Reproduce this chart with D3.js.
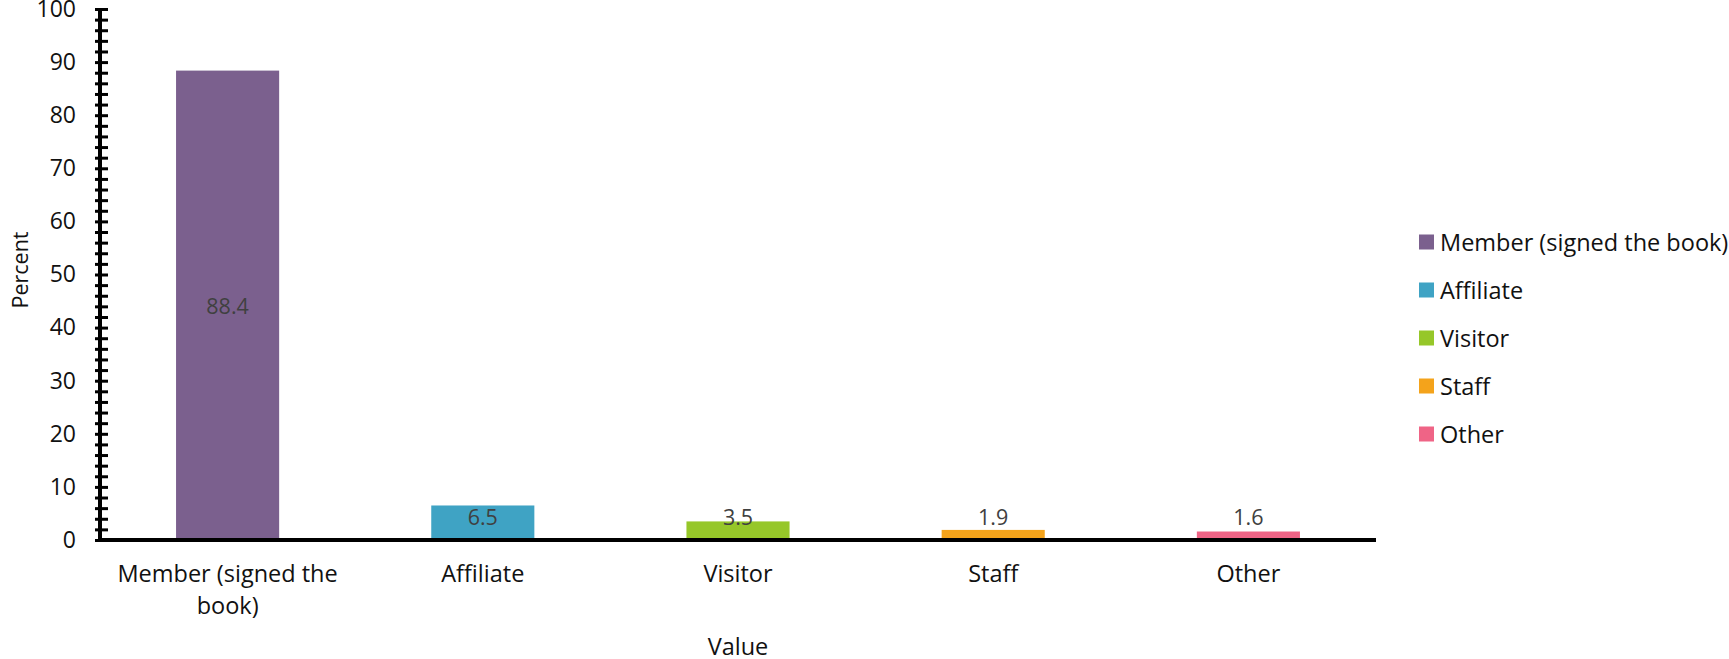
<!DOCTYPE html>
<html>
<head>
<meta charset="utf-8">
<script src="https://cdn.jsdelivr.net/npm/d3@7"></script>
<style>
  html, body { margin: 0; padding: 0; background: #fff; }
  svg { display: block; font-family: "Open Sans", "Noto Sans", sans-serif; }
</style>
</head>
<body>
<svg id="chart" width="1729" height="659"></svg>
<script>
// Share of respondents by membership type
const categories = ["Member (signed the book)", "Affiliate", "Visitor", "Staff", "Other"];
const values = [88.4, 6.5, 3.5, 1.9, 1.6];
const colors = ["#7B608E", "#3FA3C4", "#96C729", "#F4A31B", "#EF6486"];
const yTicks = [0, 10, 20, 30, 40, 50, 60, 70, 80, 90, 100];

const svg = d3.select("#chart");
const plot = { left: 100, right: 1376, top: 9, bottom: 540 };

const x = d3.scaleBand()
  .domain(categories)
  .range([plot.left, plot.right])
  .paddingInner(0.596)
  .paddingOuter(0.298);

const y = d3.scaleLinear()
  .domain([0, 100])
  .range([plot.bottom, plot.top]);

const color = d3.scaleOrdinal().domain(categories).range(colors);

// Bars
svg.append("g")
  .selectAll("rect")
  .data(categories)
  .join("rect")
  .attr("x", d => x(d))
  .attr("width", x.bandwidth())
  .attr("y", (d, i) => y(values[i]))
  .attr("height", (d, i) => y(0) - y(values[i]))
  .attr("fill", d => color(d));

// Value labels, centred in the bar but kept clear of the baseline
svg.append("g")
  .selectAll("text")
  .data(categories)
  .join("text")
  .attr("x", d => x(d) + x.bandwidth() / 2)
  .attr("y", (d, i) => Math.min(y(values[i] / 2), y(0) - 24))
  .attr("text-anchor", "middle")
  .attr("dominant-baseline", "central")
  .attr("font-size", 21.5)
  .attr("fill", "#404040")
  .text((d, i) => values[i]);

// Y axis: minor ticks every 2, labels every 10
const yMinor = svg.append("g")
  .attr("transform", `translate(${plot.left},0)`)
  .call(d3.axisLeft(y).tickValues(d3.range(0, 101, 2)).tickFormat("").tickSizeOuter(0));
yMinor.select(".domain").remove();
yMinor.selectAll(".tick line")
  .attr("x1", -5).attr("x2", 8)
  .attr("stroke", "#000").attr("stroke-width", 3);

const yMajor = svg.append("g")
  .attr("transform", `translate(${plot.left},0)`)
  .call(d3.axisLeft(y).tickValues(yTicks).tickSize(0).tickPadding(24).tickSizeOuter(0));
yMajor.select(".domain").remove();
yMajor.selectAll(".tick text")
  .attr("font-size", 23)
  .attr("font-family", "Open Sans, sans-serif")
  .attr("fill", "#111");

svg.append("line")
  .attr("x1", plot.left).attr("x2", plot.left)
  .attr("y1", y(100) - 1).attr("y2", y(0) + 2)
  .attr("stroke", "#000").attr("stroke-width", 4);

// X axis
const xAxis = svg.append("g")
  .attr("transform", `translate(0,${plot.bottom})`)
  .call(d3.axisBottom(x).tickSize(0).tickPadding(25).tickSizeOuter(0));
xAxis.select(".domain")
  .attr("stroke", "#000").attr("stroke-width", 4)
  .attr("d", `M${plot.left - 2},0H${plot.right}`);
xAxis.selectAll(".tick text")
  .attr("font-size", 23.5)
  .attr("font-family", "Open Sans, sans-serif")
  .attr("fill", "#111")
  .call(wrap, 250);

function wrap(sel, width) {
  sel.each(function () {
    const text = d3.select(this);
    const words = text.text().split(/\s+/);
    const x0 = text.attr("x") || 0;
    const dy = parseFloat(text.attr("dy")) || 0;
    text.text(null);
    let line = [];
    let tspan = text.append("tspan").attr("x", x0).attr("dy", dy + "em");
    for (const w of words) {
      line.push(w);
      tspan.text(line.join(" "));
      if (tspan.node().getComputedTextLength() > width && line.length > 1) {
        line.pop();
        tspan.text(line.join(" "));
        line = [w];
        tspan = text.append("tspan").attr("x", x0).attr("dy", "1.36em").text(w);
      }
    }
  });
}

// Axis titles
svg.append("text")
  .attr("x", (plot.left + plot.right) / 2)
  .attr("y", 655)
  .attr("text-anchor", "middle")
  .attr("font-size", 23.5)
  .attr("fill", "#111")
  .text("Value");

svg.append("text")
  .attr("transform", "translate(28,270) rotate(-90)")
  .attr("text-anchor", "middle")
  .attr("font-size", 21.5)
  .attr("fill", "#111")
  .text("Percent");

// Legend
const legend = svg.append("g")
  .attr("transform", "translate(1419,242)")
  .selectAll("g")
  .data(categories)
  .join("g")
  .attr("transform", (d, i) => `translate(0,${i * 48})`);

legend.append("rect")
  .attr("x", 0).attr("y", -7.5)
  .attr("width", 15).attr("height", 15)
  .attr("fill", d => color(d));

legend.append("text")
  .attr("x", 21)
  .attr("y", 0)
  .attr("dominant-baseline", "central")
  .attr("font-size", 23.5)
  .attr("fill", "#111")
  .text(d => d);
</script>
</body>
</html>
